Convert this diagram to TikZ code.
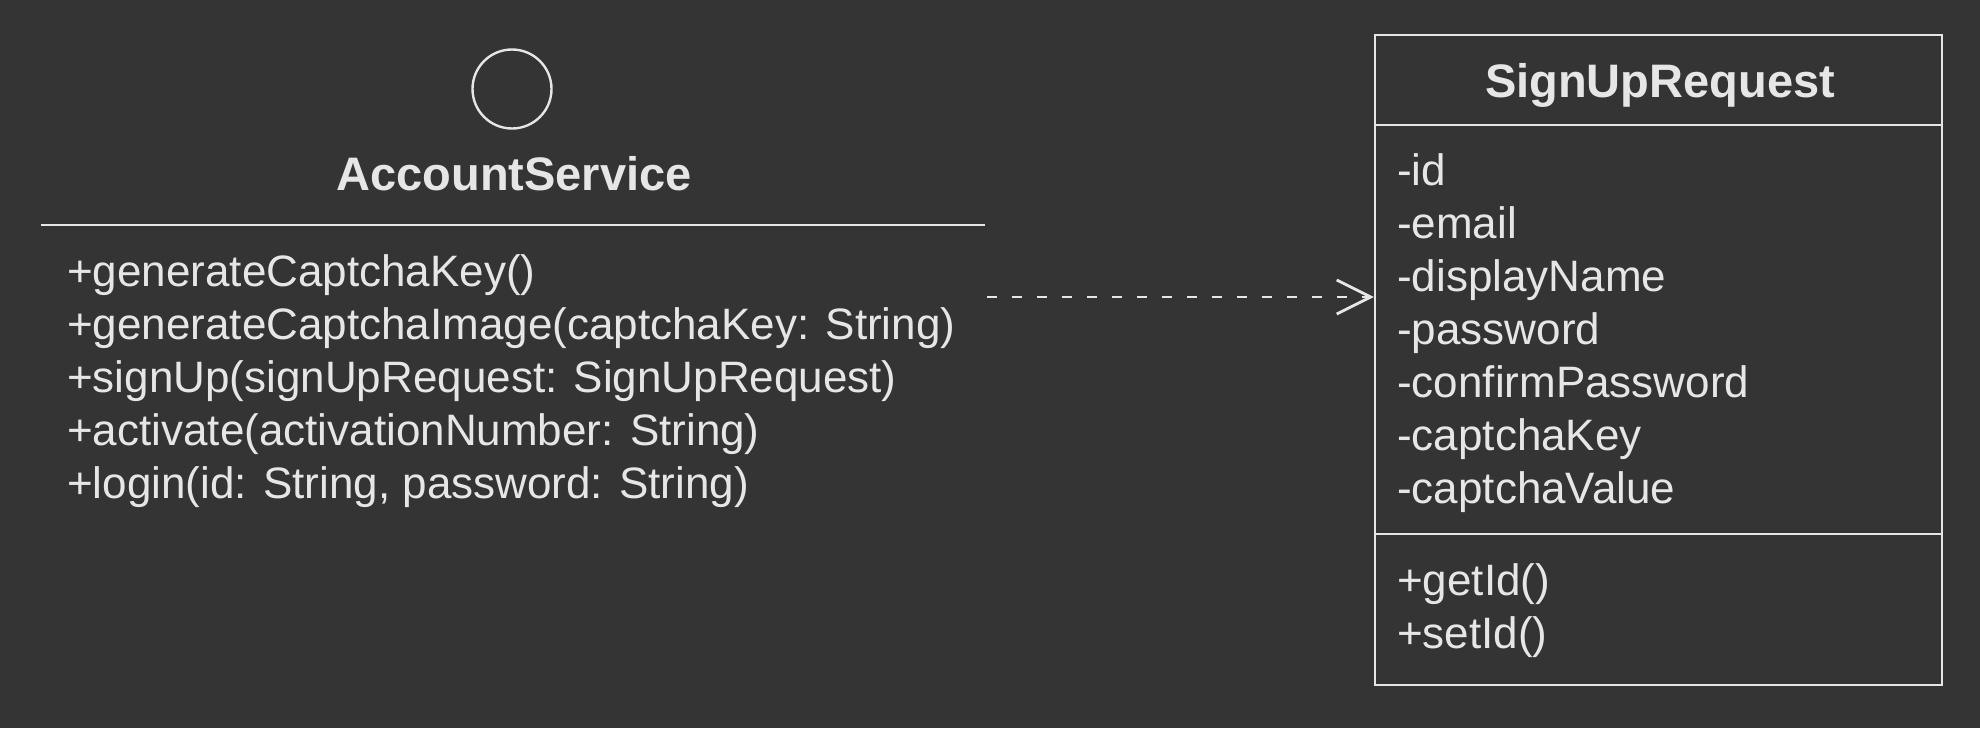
\documentclass[tikz,border=0pt]{standalone}
\usepackage{fontspec}
\setmainfont{Liberation Sans}
\usetikzlibrary{arrows.meta}
\definecolor{bgc}{HTML}{343434}
\definecolor{fgc}{HTML}{E6E6E6}
\begin{document}
\begin{tikzpicture}[x=0.5pt,y=-0.5pt, line width=1.2pt,
  member/.style={anchor=base west, inner sep=0pt, text=fgc, font=\fontsize{22}{26}\selectfont},
  classname/.style={anchor=base, inner sep=0pt, text=fgc, font=\fontsize{23.5}{28}\selectfont\bfseries},
  dep/.style={draw=fgc, line width=1.4pt, dash pattern=on 5pt off 7.5pt, -{Straight Barb[length=17pt,width=17pt]}}]
\fill[bgc] (0,0) rectangle (1980,728);
\useasboundingbox (0,0) rectangle (1980,728);
% AccountService
\node[circle, draw=fgc, inner sep=0pt, minimum size=39.5pt] (iface) at (512,89) {};
\node[classname] (asname) at (514,190) {AccountService};
\coordinate (asl) at (41,225);
\coordinate (asr) at (985,225);
\draw[fgc] (asl) -- (asr);
\node[member] (m1) at (66,286) {+generateCaptchaKey()};
\node[member] (m2) at (66,339) {+generateCaptchaImage(captchaKey: String)};
\node[member] (m3) at (66,392) {+signUp(signUpRequest: SignUpRequest)};
\node[member] (m4) at (66,445) {+activate(activationNumber: String)};
\node[member] (m5) at (66,498) {+login(id: String, password: String)};
% SignUpRequest
\node[draw=fgc, minimum width=283.5pt, minimum height=325pt, inner sep=0pt] (sur) at (1658.5,360) {};
\coordinate (s1) at (0,125);
\coordinate (s2) at (0,534);
\draw[fgc] (sur.west |- s1) -- (sur.east |- s1);
\draw[fgc] (sur.west |- s2) -- (sur.east |- s2);
\node[classname] (surname) at (1660,97) {SignUpRequest};
\node[member] (a1) at (1396,185) {-id};
\node[member] (a2) at (1396,238) {-email};
\node[member] (a3) at (1396,291) {-displayName};
\node[member] (a4) at (1396,344) {-password};
\node[member] (a5) at (1396,397) {-confirmPassword};
\node[member] (a6) at (1396,450) {-captchaKey};
\node[member] (a7) at (1396,503) {-captchaValue};
\node[member] (o1) at (1396,595) {+getId()};
\node[member] (o2) at (1396,648) {+setId()};
% dependency
\coordinate (depstart) at (987,297);
\draw[dep] (depstart) -- (depstart -| sur.west);
\end{tikzpicture}
\end{document}
